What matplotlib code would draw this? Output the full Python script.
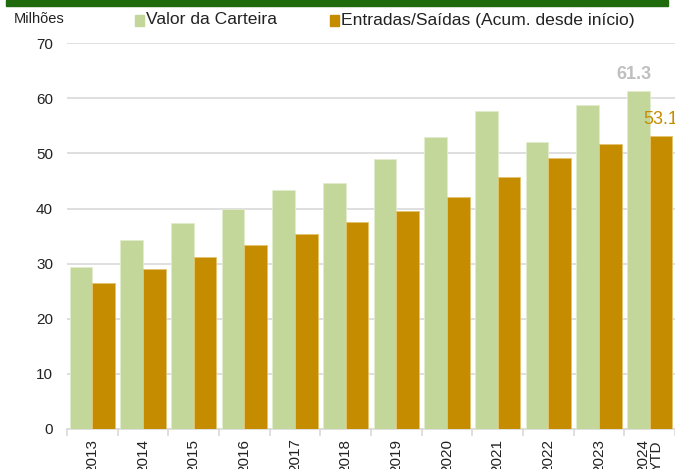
import matplotlib
matplotlib.use("Agg")
import matplotlib.pyplot as plt
from matplotlib.patches import Rectangle
from matplotlib.ticker import FixedLocator
import numpy as np

categories = ["2013", "2014", "2015", "2016", "2017", "2018", "2019", "2020",
              "2021", "2022", "2023", "2024\nYTD"]
valor_carteira = [29.3, 34.3, 37.3, 39.9, 43.3, 44.6, 49.0, 53.0, 57.7, 52.0, 58.8, 61.3]
entradas_saidas = [26.5, 29.0, 31.2, 33.3, 35.3, 37.5, 39.5, 42.1, 45.8, 49.1, 51.7, 53.1]
series_names = ["Valor da Carteira", "Entradas/Saídas (Acum. desde início)"]
yticks = [0, 10, 20, 30, 40, 50, 60, 70]

GREEN = "#C4D79B"
ORANGE = "#C58C00"
GRID = "#D9D9D9"

plt.rcParams['font.family'] = ['Liberation Sans', 'DejaVu Sans']

W, H = 675, 469
fig = plt.figure(figsize=(W / 100, H / 100), dpi=100)
ax = fig.add_axes([67 / W, (H - 428.8) / H, 608 / W, 385.5 / H])

x = np.arange(len(categories))
bw = 0.447
b1 = ax.bar(x - bw / 2, valor_carteira, bw, color=GREEN, edgecolor="#E2EDCD",
            linewidth=0.6, label=series_names[0], zorder=3)
b2 = ax.bar(x + bw / 2, entradas_saidas, bw, color=ORANGE, edgecolor="#E3C36F",
            linewidth=0.6, label=series_names[1], zorder=3)

ax.set_xlim(-0.5, len(categories) - 0.5)
ax.set_ylim(0, 70)
ax.set_yticks(yticks)
ax.tick_params(axis='y', length=0, pad=10, labelsize=11, labelcolor="#222222")
ax.yaxis.grid(True, color=GRID, linewidth=1.2, zorder=0)
ax.set_axisbelow(True)

ax.xaxis.set_major_locator(FixedLocator(np.arange(-0.5, len(categories), 1.0)))
ax.set_xticklabels([], minor=False)
ax.set_xticks(x, minor=True)
ax.set_xticklabels(categories, minor=True, rotation=90, fontsize=11,
                   color="#222222", va='top', ha='center', linespacing=0.95)
ax.tick_params(axis='x', which='major', length=5, color=GRID, width=1.2)
ax.tick_params(axis='x', which='minor', length=0, pad=7)

for s in ["left", "right", "top"]:
    ax.spines[s].set_visible(False)
ax.spines["bottom"].set_color(GRID)
ax.spines["bottom"].set_linewidth(1.2)

# value labels on last group
ax.annotate(f"{valor_carteira[-1]:.1f}", (x[-1] - bw / 2, valor_carteira[-1]),
            xytext=(-3, 6), textcoords="offset points", ha="center", va="bottom",
            fontsize=13, color="#BFBFBF", fontweight="bold", annotation_clip=False)
ax.annotate(f"{entradas_saidas[-1]:.1f}", (x[-1] + bw / 2, entradas_saidas[-1]),
            xytext=(0, 6), textcoords="offset points", ha="center", va="bottom",
            fontsize=13, color=ORANGE, annotation_clip=False)

# top banner
fig.add_artist(Rectangle((6 / W, (H - 6) / H), 662 / W, 6 / H,
                         transform=fig.transFigure, color="#1E6A0C", zorder=0))

fig.text(14 / W, 1 - 19 / H, "Milhões", fontsize=10.5, color="#222222",
         ha="left", va="center")

# legend (drawn in figure pixels)
leg_y = 20
for (sx, tx, col, name) in [(135, 146, GREEN, series_names[0]),
                            (330, 341, ORANGE, series_names[1])]:
    fig.add_artist(Rectangle((sx / W, 1 - (leg_y + 6) / H), 9 / W, 11 / H,
                             transform=fig.transFigure, color=col, zorder=5))
    fig.text(tx / W, 1 - leg_y / H, name, fontsize=12.6, color="#222222",
             ha="left", va="center")

fig.savefig("out.png", dpi=100)
